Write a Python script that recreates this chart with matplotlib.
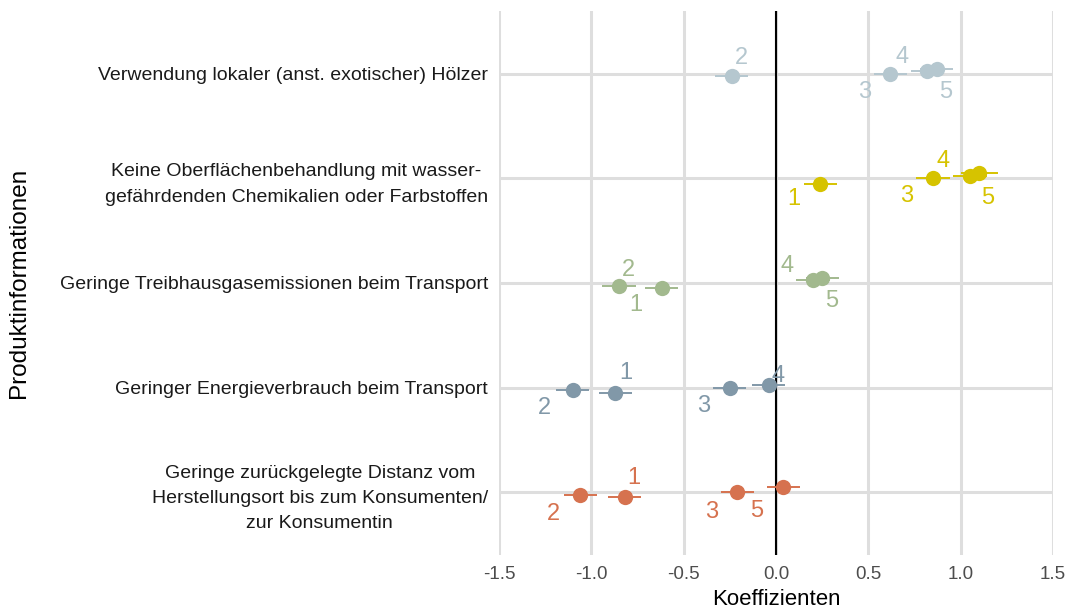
import matplotlib
matplotlib.use("Agg")
import matplotlib.pyplot as plt
import numpy as np

plt.rcParams['font.family'] = ['Liberation Sans', 'DejaVu Sans']

categories = [
    "Verwendung lokaler (anst. exotischer) Hölzer",
    "Keine Oberflächenbehandlung mit wasser-\ngefährdenden Chemikalien oder Farbstoffen",
    "Geringe Treibhausgasemissionen beim Transport",
    "Geringer Energieverbrauch beim Transport",
    "Geringe zurückgelegte Distanz vom\nHerstellungsort bis zum Konsumenten/\nzur Konsumentin",
]
colors = ["#b5c7cf", "#d6c300", "#a2b98e", "#8198a8", "#d6724f"]

# model numbers and coefficients per category
models = [
    [2, 3, 4, 5],
    [1, 3, 4, 5],
    [1, 2, 4, 5],
    [1, 2, 3, 4],
    [1, 2, 3, 5],
]
coefs = [
    [-0.24, 0.62, 0.82, 0.87],
    [0.24, 0.85, 1.05, 1.10],
    [-0.62, -0.85, 0.20, 0.25],
    [-0.87, -1.10, -0.25, -0.04],
    [-0.82, -1.06, -0.21, 0.04],
]
ci_half = [
    [0.09, 0.09, 0.09, 0.09],
    [0.09, 0.09, 0.09, 0.10],
    [0.09, 0.09, 0.09, 0.09],
    [0.09, 0.09, 0.09, 0.09],
    [0.09, 0.09, 0.09, 0.09],
]

# label offsets in pixels (dx, dy downwards) relative to the point
label_offsets = [
    {2: (10, -18), 3: (-26, 18), 4: (-25, -14), 5: (9, 23)},
    {1: (-27, 15), 3: (-26, 18), 4: (-27, -15), 5: (9, 25)},
    {2: (9, -16), 1: (-26, 17), 4: (-26, -14), 5: (10, 23)},
    {1: (10, -20), 2: (-28, 18), 3: (-26, 18), 4: (9, -9)},
    {1: (9, -19), 2: (-27, 19), 3: (-26, 20), 5: (-27, 24)},
]

W, H, DPI = 1070, 614, 100
fig = plt.figure(figsize=(W / DPI, H / DPI), dpi=DPI)
ax = fig.add_axes([499 / W, 1 - 555 / H, (1053 - 499) / W, (555 - 11) / H])

n = len(categories)
ypos = np.arange(n)[::-1] + 1  # top category highest
dodge = 0.025
px2pt = 72 / DPI

for i in range(n):
    for m, c, e in zip(models[i], coefs[i], ci_half[i]):
        y = ypos[i] + (m - 3) * dodge
        ax.plot([c - e, c + e], [y, y], color=colors[i], lw=1.4, zorder=3,
                solid_capstyle='butt')
        ax.plot(c, y, 'o', color=colors[i], ms=11, zorder=4, mec='none')
        dx, dy = label_offsets[i][m]
        ax.annotate(str(m), (c, y), xytext=(dx * px2pt, -dy * px2pt),
                    textcoords='offset points', ha='center', va='center',
                    fontsize=17, color=colors[i], zorder=5)

ax.set_xlim(-1.5, 1.5)
ax.set_ylim(0.4, n + 0.6)
ax.set_xticks(np.arange(-1.5, 1.51, 0.5))
ax.set_xticklabels([f"{v:.1f}" for v in np.arange(-1.5, 1.51, 0.5)])
ax.set_yticks(ypos)
ax.set_yticklabels(categories, ha='right', multialignment='center', linespacing=1.65)
ax.grid(True, color='#dedede', lw=2.2)
ax.set_axisbelow(True)
ax.axvline(0, color='black', lw=1.5, zorder=2)
for s in ax.spines.values():
    s.set_visible(False)
ax.tick_params(length=0, pad=8)
ax.tick_params(axis='x', labelsize=13.5, colors='#4d4d4d')
ax.tick_params(axis='y', labelsize=14, labelcolor='#1a1a1a')
ax.set_xlabel("Koeffizienten", fontsize=16, labelpad=4, color='black')
ax.set_ylabel("Produktinformationen", fontsize=17.5, color='black')
ax.yaxis.set_label_coords(-469 / (1053 - 499), 0.5)

fig.savefig("out.png", dpi=DPI)
